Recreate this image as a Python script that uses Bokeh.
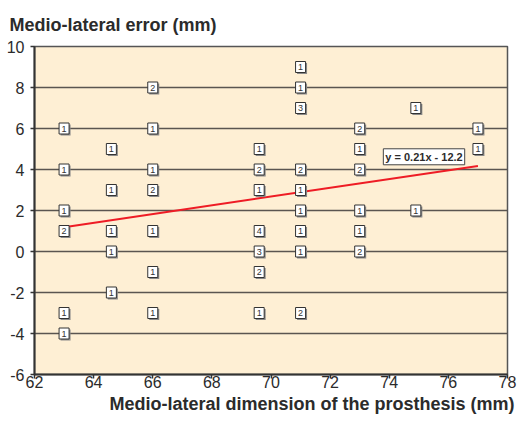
import numpy as np
from bokeh.plotting import figure
from bokeh.models import Range1d, FixedTicker, Label, Title, ColumnDataSource
from bokeh.core.properties import value
from bokeh.embed import file_html
from bokeh.resources import INLINE

# Data: medio-lateral dimension (mm), error (mm), number of cases at that point
dimension = [63, 63, 63, 63, 63, 63,
             64.6, 64.6, 64.6, 64.6, 64.6,
             66, 66, 66, 66, 66, 66, 66,
             69.6, 69.6, 69.6, 69.6, 69.6, 69.6, 69.6,
             71, 71, 71, 71, 71, 71, 71, 71, 71,
             73, 73, 73, 73, 73, 73,
             74.9, 74.9,
             77, 77]
error = [6, 4, 2, 1, -3, -4,
         5, 3, 1, 0, -2,
         8, 6, 4, 3, 1, -1, -3,
         5, 4, 3, 1, 0, -1, -3,
         9, 8, 7, 4, 3, 2, 1, 0, -3,
         6, 5, 4, 2, 1, 0,
         7, 2,
         6, 5]
count = [1, 1, 1, 2, 1, 1,
         1, 1, 1, 1, 1,
         2, 1, 1, 2, 1, 1, 1,
         1, 2, 1, 4, 3, 2, 1,
         1, 1, 3, 2, 1, 1, 1, 1, 2,
         2, 1, 2, 1, 1, 2,
         1, 1,
         1, 1]
x_ticks = [62, 64, 66, 68, 70, 72, 74, 76, 78]
y_ticks = [-6, -4, -2, 0, 2, 4, 6, 8, 10]
equation = "y = 0.21x - 12.2"

FONT = "Liberation Sans"
X0, X1, Y0, Y1 = 62, 78, -6, 10
FW, FH = 473, 328

p = figure(output_backend="svg", toolbar_location=None,
           frame_width=FW, frame_height=FH,
           min_border_left=34, min_border_right=13,
           min_border_top=45, min_border_bottom=44,
           x_range=Range1d(X0, X1), y_range=Range1d(Y0, Y1),
           background_fill_color="#FEEFD4", border_fill_color="white",
           outline_line_color="#555555", outline_line_width=1.5)
p.title.visible = False

# Titles
p.add_layout(Title(text="Medio-lateral error (mm)", align="left", offset=-25,
                   text_font=FONT, text_font_size="18px", text_font_style="bold",
                   text_color="#2b2b2b", standoff=24), "above")
p.add_layout(Title(text="Medio-lateral dimension of the prosthesis (mm)", align="right",
                   offset=-7, text_font=FONT, text_font_size="18px",
                   text_font_style="bold", text_color="#2b2b2b", standoff=3), "below")

# Axes
for ax in (p.xaxis, p.yaxis):
    ax.axis_line_color = "#333333"
    ax.axis_line_width = 2
    ax.major_tick_line_color = "#333333"
    ax.major_tick_line_width = 1.5
    ax.major_tick_out = 4
    ax.major_tick_in = 0
    ax.minor_tick_out = 0
    ax.minor_tick_in = 0
    ax.major_label_text_font = FONT
    ax.major_label_text_font_size = "16px"
    ax.major_label_text_color = "#2b2b2b"
p.xaxis.ticker = FixedTicker(ticks=x_ticks)
p.yaxis.ticker = FixedTicker(ticks=y_ticks)
p.xaxis.major_label_overrides = {t: str(t) for t in x_ticks}
p.yaxis.major_label_overrides = {t: str(t) for t in y_ticks}
p.xaxis.major_label_standoff = -3
p.yaxis.major_label_standoff = 6

p.xgrid.visible = False
p.ygrid.grid_line_color = "#5a5550"
p.ygrid.grid_line_width = 1.4

# Regression line (weighted by case count)
xr = np.repeat(dimension, count)
yr = np.repeat(error, count)
slope, intercept = np.polyfit(xr, yr, 1)
lx = np.array([min(dimension), max(dimension)])
p.line(lx, slope * lx + intercept, line_color="#EE1C25", line_width=2)

# Count boxes with a small shadow
dx = 1.5 * (X1 - X0) / FW
dy = 1.5 * (Y1 - Y0) / FH
src = ColumnDataSource(dict(x=dimension, y=error, n=[str(c) for c in count],
                            xs=[v + dx for v in dimension], ys=[v - dy for v in error]))
p.rect("xs", "ys", width=10, height=11, width_units="screen", height_units="screen",
       source=src, fill_color="#8a8a8a", line_color=None)
p.rect("x", "y", width=10, height=11, width_units="screen", height_units="screen",
       source=src, fill_color="white", line_color="#333333", line_width=1)
p.text("x", "y", text="n", source=src, text_align="center", text_baseline="middle",
       text_font=value(FONT), text_font_size="9px", text_color="#333333")

# Equation label
p.add_layout(Label(x=73.8, y=4.62, text=equation, text_font=FONT, text_font_size="11px",
                   text_font_style="bold", text_color="#2b2b2b", text_baseline="middle",
                   text_align="left", background_fill_color="white",
                   border_line_color="#444444", border_line_width=1, padding=2))

open("out.html", "w").write(file_html(p, INLINE))
